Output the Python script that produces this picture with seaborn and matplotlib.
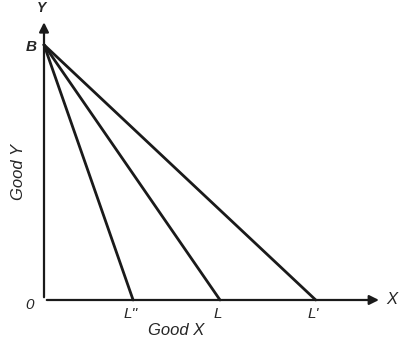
import pandas as pd
import matplotlib.pyplot as plt
import seaborn as sns

# budget lines from B on the Y axis to three X intercepts
intercept_y = 11.6
intercepts_x = [4.05, 8.0, 12.35]
x_labels = ["L''", "L", "L'"]

sns.set_style('white')
plt.rcParams['font.family'] = ['Liberation Sans', 'DejaVu Sans']

rows = []
for name, xi in zip(x_labels, intercepts_x):
    rows.append({'line': name, 'x': 0, 'y': intercept_y})
    rows.append({'line': name, 'x': xi, 'y': 0})
df = pd.DataFrame(rows)

fig = plt.figure(figsize=(4, 3.41), dpi=100)
ax = fig.add_axes([0, 0, 1, 1])
sns.lineplot(data=df, x='x', y='y', units='line', estimator=None, sort=False,
             color='#1a1a1a', linewidth=2, ax=ax)

# axes with arrow heads
ax.annotate('', xy=(15.35, 0), xytext=(0, 0),
            arrowprops=dict(arrowstyle='-|>', color='#1a1a1a', lw=1.6, mutation_scale=14))
ax.annotate('', xy=(0, 12.75), xytext=(0, 0),
            arrowprops=dict(arrowstyle='-|>', color='#1a1a1a', lw=1.6, mutation_scale=14))

ax.set_xlim(-2, 16.18)
ax.set_ylim(-1.864, 13.636)
ax.axis('off')

fs = 11
ax.text(-0.6, 11.5, 'B', fontsize=fs, style='italic', fontweight='bold', ha='center', va='center')
ax.text(-0.1, 13.25, 'Y', fontsize=10, style='italic', fontweight='bold', ha='center', va='center')
ax.text(-0.65, -0.25, '0', fontsize=fs, style='italic', ha='center', va='center')
ax.text(15.8, 0, 'X', fontsize=fs + 1, style='italic', ha='center', va='center')
for name, xi in zip(x_labels, intercepts_x):
    ax.text(xi - 0.1, -0.65, name, fontsize=fs, style='italic', ha='center', va='center')
ax.text(6.0, -1.4, 'Good X', fontsize=fs + 1, style='italic', ha='center', va='center')
ax.text(-1.15, 5.8, 'Good Y', fontsize=fs + 1, style='italic', rotation=90,
        ha='center', va='center')

plt.savefig('out.png', dpi=100)
